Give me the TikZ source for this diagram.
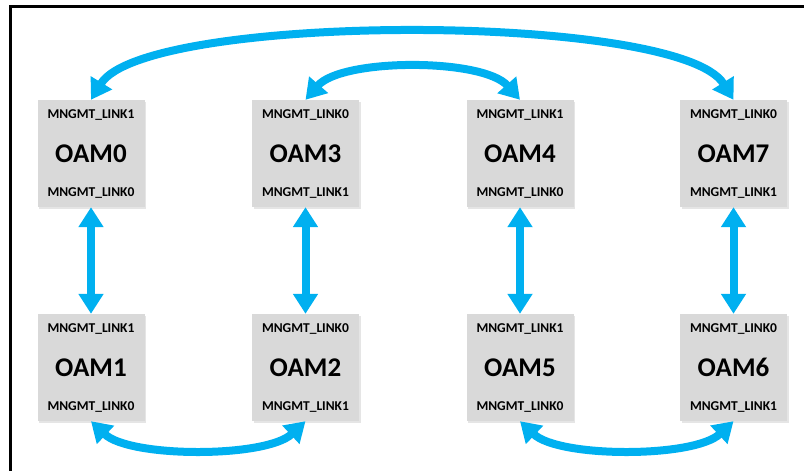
\documentclass[tikz,border=0pt]{standalone}
\usepackage{fontspec}
\setmainfont{Carlito}
\usetikzlibrary{arrows.meta,shadows}
\definecolor{linkblue}{RGB}{0,176,240}
\definecolor{boxgray}{RGB}{217,217,217}
\tikzset{
  oambox/.style={fill=boxgray, minimum width=107pt, minimum height=107pt, inner sep=0pt,
    font=\fontsize{27}{30}\selectfont\bfseries,
    drop shadow={shadow xshift=1.5pt, shadow yshift=-1.5pt, fill=black!25, opacity=0.4}},
  linklabel/.style={font=\fontsize{13.5}{15}\selectfont\bfseries, inner sep=0pt},
  arr/.style={draw=linkblue, line width=8pt,
    {Triangle[length=20pt,width=24pt,fill=linkblue]}-{Triangle[length=20pt,width=24pt,fill=linkblue]}},
  frameline/.style={line width=3pt, black}
}
\begin{document}
\begin{tikzpicture}[x=1pt,y=-1pt]
\useasboundingbox (0,0) rectangle (804,471);
% frame
\coordinate (fa) at (10.5,480);
\coordinate (fb) at (10.5,6.5);
\coordinate (fc) at (815,6.5);
\draw[frameline] (fa) -- (fb) -- (fc);
% boxes
\node[oambox] (OAM0) at (91,153.5) {OAM0};
\node[oambox] (OAM3) at (305.5,153.5) {OAM3};
\node[oambox] (OAM4) at (520,153.5) {OAM4};
\node[oambox] (OAM7) at (733.5,153.5) {OAM7};
\node[oambox] (OAM1) at (91,367.5) {OAM1};
\node[oambox] (OAM2) at (305.5,367.5) {OAM2};
\node[oambox] (OAM5) at (520,367.5) {OAM5};
\node[oambox] (OAM6) at (733.5,367.5) {OAM6};
% link labels
\node[linklabel] (t0) at ([yshift=38.5pt]OAM0.center) {MNGMT\_LINK1};
\node[linklabel] (b0) at ([yshift=-39.5pt]OAM0.center) {MNGMT\_LINK0};
\node[linklabel] (t3) at ([yshift=38.5pt]OAM3.center) {MNGMT\_LINK0};
\node[linklabel] (b3) at ([yshift=-39.5pt]OAM3.center) {MNGMT\_LINK1};
\node[linklabel] (t4) at ([yshift=38.5pt]OAM4.center) {MNGMT\_LINK1};
\node[linklabel] (b4) at ([yshift=-39.5pt]OAM4.center) {MNGMT\_LINK0};
\node[linklabel] (t7) at ([yshift=38.5pt]OAM7.center) {MNGMT\_LINK0};
\node[linklabel] (b7) at ([yshift=-39.5pt]OAM7.center) {MNGMT\_LINK1};
\node[linklabel] (t1) at ([yshift=38.5pt]OAM1.center) {MNGMT\_LINK1};
\node[linklabel] (b1) at ([yshift=-39.5pt]OAM1.center) {MNGMT\_LINK0};
\node[linklabel] (t2) at ([yshift=38.5pt]OAM2.center) {MNGMT\_LINK0};
\node[linklabel] (b2) at ([yshift=-39.5pt]OAM2.center) {MNGMT\_LINK1};
\node[linklabel] (t5) at ([yshift=38.5pt]OAM5.center) {MNGMT\_LINK1};
\node[linklabel] (b5) at ([yshift=-39.5pt]OAM5.center) {MNGMT\_LINK0};
\node[linklabel] (t6) at ([yshift=38.5pt]OAM6.center) {MNGMT\_LINK0};
\node[linklabel] (b6) at ([yshift=-39.5pt]OAM6.center) {MNGMT\_LINK1};
% vertical links
\draw[arr] (OAM0.south) -- (OAM1.north);
\draw[arr] (OAM3.south) -- (OAM2.north);
\draw[arr] (OAM4.south) -- (OAM5.north);
\draw[arr] (OAM7.south) -- (OAM6.north);
% arcs
\draw[arr] (OAM0.north) .. controls (145,12) and (679,12) .. (OAM7.north);
\draw[arr] (OAM3.north) .. controls (342,58) and (483,58) .. (OAM4.north);
\draw[arr] (OAM1.south) .. controls (130,458) and (266,458) .. (OAM2.south);
\draw[arr] (OAM5.south) .. controls (559,458) and (694,458) .. (OAM6.south);
\end{tikzpicture}
\end{document}
